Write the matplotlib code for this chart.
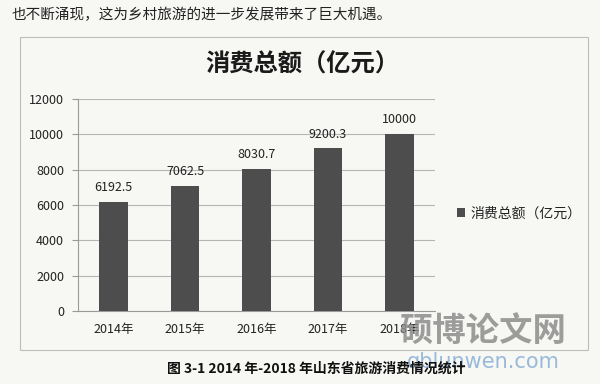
import matplotlib.pyplot as plt
from matplotlib.patches import Rectangle

plt.rcParams['font.family'] = ['Noto Sans CJK SC', 'DejaVu Sans']

years = ['2014年', '2015年', '2016年', '2017年', '2018年']
totals = [6192.5, 7062.5, 8030.7, 9200.3, 10000]
labels = ['6192.5', '7062.5', '8030.7', '9200.3', '10000']
yticks = [0, 2000, 4000, 6000, 8000, 10000, 12000]

bg = '#f7f7f4'
fig = plt.figure(figsize=(6, 3.84), dpi=100, facecolor=bg)

# page text above the chart
fig.text(12 / 600, 1 - 15 / 384, '也不断涌现，这为乡村旅游的进一步发展带来了巨大机遇。',
         fontsize=10.5, color='#222222', va='center', ha='left')

# chart frame
fig.patches.append(Rectangle((20 / 600, 1 - 350 / 384), 568 / 600, 313 / 384,
                             transform=fig.transFigure, fill=False,
                             edgecolor='#bdbdbd', linewidth=0.8))

fig.text(302 / 600, 1 - 65 / 384, '消费总额（亿元）', fontsize=17.5, fontweight='bold',
         color='#1a1a1a', ha='center', va='center')

ax = fig.add_axes([78 / 600, 1 - 311 / 384, 357 / 600, 212 / 384], facecolor='none')
x = range(len(years))
bars = ax.bar(x, totals, width=0.4, color='#4d4d4d', label='消费总额（亿元）', zorder=3)
for b, t in zip(bars, labels):
    ax.text(b.get_x() + b.get_width() / 2, b.get_height() + 450, t,
            ha='center', va='bottom', fontsize=9, color='#222222')

ax.set_xlim(-0.5, len(years) - 0.5)
ax.set_ylim(0, 12000)
ax.set_yticks(yticks)
ax.set_xticks(list(x))
ax.set_xticklabels(years)
ax.yaxis.grid(True, color='#b5b5b5', linewidth=0.8, zorder=0)
for s in ['top', 'right']:
    ax.spines[s].set_visible(False)
ax.spines['left'].set_color('#9a9a9a')
ax.spines['bottom'].set_color('#9a9a9a')
ax.tick_params(axis='y', length=4, color='#9a9a9a', labelsize=9, labelcolor='#222222', pad=6)
ax.tick_params(axis='x', length=0, labelsize=9, labelcolor='#222222', pad=9)

ax.legend(loc='center left', bbox_to_anchor=((457 - 78) / 357, 0.46), frameon=False,
          fontsize=10, handlelength=0.6, handleheight=0.6, handletextpad=0.4,
          borderaxespad=0, borderpad=0, labelcolor='#222222')

# watermark
fig.text(483 / 600, 1 - 331 / 384, '硕博论文网', fontsize=24, fontweight='bold',
         color='#8c8c8c', alpha=0.85, ha='center', va='center')
fig.text(483 / 600, 1 - 362 / 384, 'qblunwen.com', fontsize=15,
         color='#8fb3d9', alpha=0.9, ha='center', va='center', family='DejaVu Sans')

# caption
fig.text(316 / 600, 1 - 369 / 384, '图 3-1 2014 年-2018 年山东省旅游消费情况统计',
         fontsize=10, fontweight='bold', color='#111111', ha='center', va='center')

fig.savefig('out.png', dpi=100, facecolor=bg)
